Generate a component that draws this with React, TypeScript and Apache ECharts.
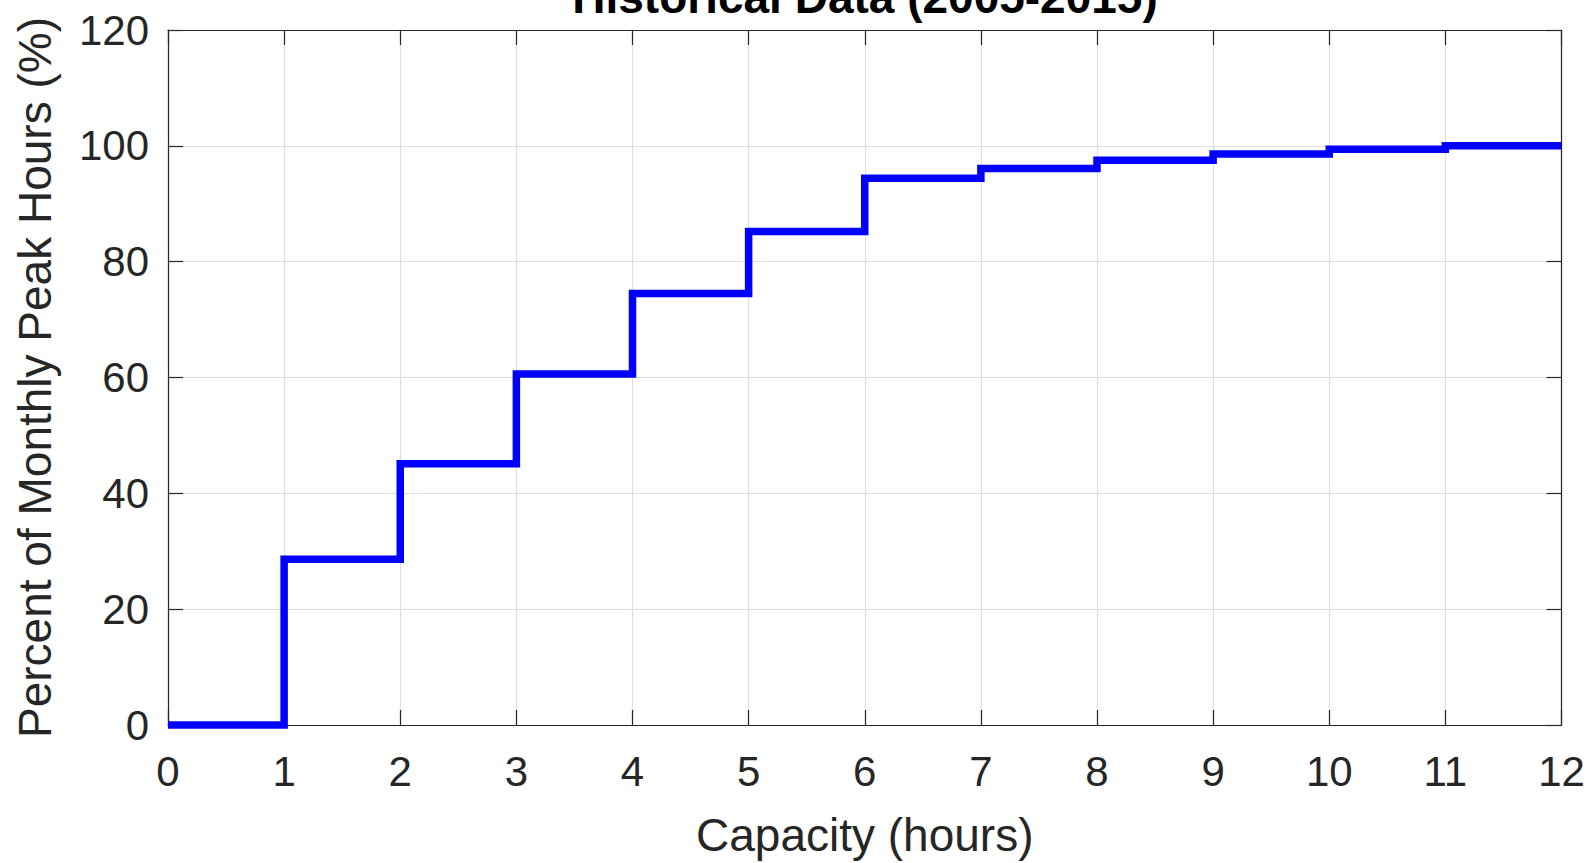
import React, { useEffect, useRef } from "react";
import * as echarts from "echarts";

const titleText = "Historical Data (2005-2015)";
const xAxisName = "Capacity (hours)";
const yAxisName = "Percent of Monthly Peak Hours (%)";
const capacityHours = [0, 1, 2, 3, 4, 5, 6, 7, 8, 9, 10, 11, 12];
const percentPeakHours = [0, 28.6, 45.1, 60.6, 74.5, 85.2, 94.4, 96.1, 97.5, 98.6, 99.4, 100, 100];

const FONT = "'Liberation Sans', Arial, Helvetica, sans-serif";
const DARK = "#262626";

export default function App() {
  const ref = useRef<HTMLDivElement>(null);
  useEffect(() => {
    if (!ref.current) return;
    const chart = echarts.init(ref.current, undefined, { renderer: "svg" });
    const data = capacityHours.map((x, i) => [x, percentPeakHours[i]]);
    const baseX = {
      type: "value" as const,
      min: 0,
      max: 12,
      interval: 1,
      axisLine: { show: true, onZero: false, lineStyle: { color: DARK, width: 1.2 } },
      axisTick: { show: true, inside: true, length: 15, lineStyle: { color: DARK, width: 1.2 } },
    };
    const baseY = {
      type: "value" as const,
      min: 0,
      max: 120,
      interval: 20,
      axisLine: { show: true, onZero: false, lineStyle: { color: DARK, width: 1.2 } },
      axisTick: { show: true, inside: true, length: 15, lineStyle: { color: DARK, width: 1.2 } },
    };
    chart.setOption({
      animation: false,
      backgroundColor: "#ffffff",
      grid: { left: 168, right: 29.5, top: 30, bottom: 134.5, containLabel: false },
      graphic: [
        {
          type: "text",
          x: 865,
          y: -3,
          style: {
            text: titleText,
            fontFamily: FONT,
            fontWeight: "bold",
            fontSize: 46,
            fill: "#000000",
            textAlign: "center",
            textVerticalAlign: "middle",
          },
        },
      ],
      xAxis: [
        {
          ...baseX,
          position: "bottom",
          name: xAxisName,
          nameLocation: "middle",
          nameGap: 87,
          nameTextStyle: { fontFamily: FONT, fontSize: 46, color: DARK },
          axisLabel: { show: true, margin: 25, fontFamily: FONT, fontSize: 42, color: DARK },
          splitLine: { show: true, lineStyle: { color: "#dedede", width: 1.2 } },
        },
        {
          ...baseX,
          position: "top",
          axisLabel: { show: false },
          splitLine: { show: false },
        },
      ],
      yAxis: [
        {
          ...baseY,
          position: "left",
          name: yAxisName,
          nameLocation: "middle",
          nameRotate: 90,
          nameGap: 110,
          nameTextStyle: { fontFamily: FONT, fontSize: 46, color: DARK },
          axisLabel: { show: true, margin: 19, fontFamily: FONT, fontSize: 42, color: DARK },
          splitLine: { show: true, lineStyle: { color: "#dedede", width: 1.2 } },
        },
        {
          ...baseY,
          position: "right",
          axisLabel: { show: false },
          splitLine: { show: false },
        },
      ],
      series: [
        {
          type: "line",
          xAxisIndex: 0,
          yAxisIndex: 0,
          step: "end",
          data,
          showSymbol: false,
          symbol: "none",
          lineStyle: { color: "#0000ff", width: 7.5, join: "miter", cap: "butt" },
          clip: false,
        },
      ],
    });
    return () => chart.dispose();
  }, []);
  return (
    <div
      ref={ref}
      style={{ position: "fixed", left: 0, top: 0, width: 1591, height: 863, background: "#fff" }}
    />
  );
}
